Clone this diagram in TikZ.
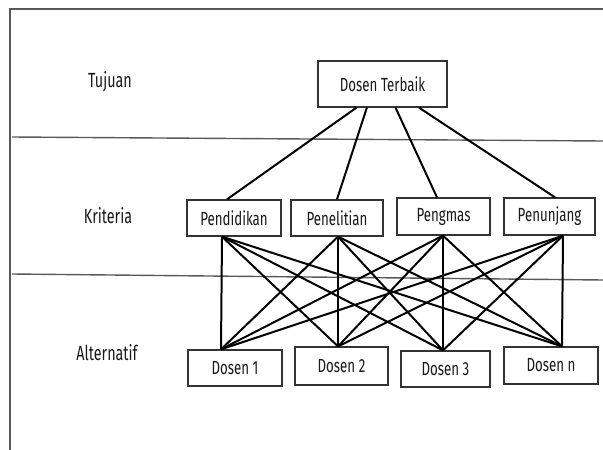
\documentclass[tikz,border=0pt]{standalone}
\usepackage{fontspec}
\setmainfont{Fira Sans}[FakeStretch=0.7]
\usetikzlibrary{calc}
\begin{document}
\begin{tikzpicture}[x=1pt,y=-1pt,
  box/.style={draw=black!80,line width=1.3pt,inner sep=0pt,text=black!90,font=\fontsize{19}{21}\selectfont},
  lbl/.style={inner sep=0pt,text=black!90,font=\fontsize{20.5}{22}\selectfont},
  link/.style={line width=2pt,black},
  frameline/.style={draw=black!65,line width=1.4pt}]
\useasboundingbox (0,0) rectangle (603,450);
% frame and separators
\draw[frameline] (10,450) -- (10,9) -- (603,9);
\draw[frameline] (12,137) -- (603,141);
\draw[frameline] (12,274) -- (603,280);
% level labels
\node[lbl] (ltuj) at (110,82) {Tujuan};
\node[lbl] (lkri) at (108,216) {Kriteria};
\node[lbl] (lalt) at (107,353) {Alternatif};
% goal
\node[box,minimum width=129pt,minimum height=46pt] (dt) at (382.5,84) {Dosen Terbaik};
% criteria
\node[box,minimum width=94pt,minimum height=36pt] (c1) at (234,218) {Pendidikan};
\node[box,minimum width=92pt,minimum height=36pt] (c2) at (337,218) {Penelitian};
\node[box,minimum width=93pt,minimum height=37pt] (c3) at (443.5,216.5) {Pengmas};
\node[box,minimum width=91pt,minimum height=37pt] (c4) at (549.5,216.5) {Penunjang};
% alternatives
\node[box,minimum width=94pt,minimum height=36pt] (a1) at (235,368) {Dosen 1};
\node[box,minimum width=93pt,minimum height=38pt] (a2) at (341.5,366) {Dosen 2};
\node[box,minimum width=89pt,minimum height=36pt] (a3) at (445.5,369) {Dosen 3};
\node[box,minimum width=94pt,minimum height=37pt] (a4) at (551,365.5) {Dosen n};
% goal to criteria
\coordinate (d1) at ($(dt.south west)!0.30!(dt.south east)$);
\coordinate (d2) at ($(dt.south west)!0.38!(dt.south east)$);
\coordinate (d3) at ($(dt.south west)!0.60!(dt.south east)$);
\coordinate (d4) at ($(dt.south west)!0.78!(dt.south east)$);
\coordinate (c1t) at ([xshift=-7pt]c1.north);
\coordinate (c2t) at (c2.north);
\coordinate (c3t) at ([xshift=-6.5pt]c3.north);
\coordinate (c4t) at ([xshift=5.5pt]c4.north);
\foreach \i in {1,...,4} \draw[link] (d\i) -- (c\i t);
% criteria to alternatives
\coordinate (c1b) at ([xshift=-12pt]c1.south);
\coordinate (c2b) at ([xshift=1pt]c2.south);
\coordinate (c3b) at ([xshift=-0.5pt]c3.south);
\coordinate (c4b) at ([xshift=13.5pt]c4.south);
\coordinate (a1t) at ([xshift=-14pt]a1.north);
\coordinate (a2t) at ([xshift=-3.5pt]a2.north);
\coordinate (a3t) at ([xshift=-2.5pt]a3.north);
\coordinate (a4t) at ([xshift=11pt]a4.north);
\foreach \i in {1,...,4} \foreach \j in {1,...,4} \draw[link] (c\i b) -- (a\j t);
\end{tikzpicture}
\end{document}
